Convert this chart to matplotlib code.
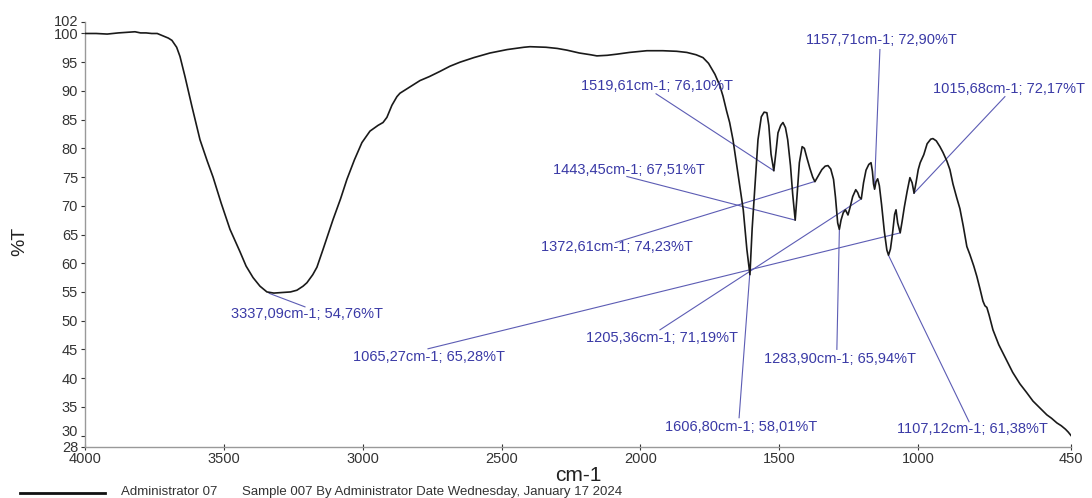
"""FTIR spectrum of Sample 007 with peak annotations."""

import matplotlib
matplotlib.use("Agg")
import matplotlib.pyplot as plt
import matplotlib.transforms as mtransforms
from matplotlib.lines import Line2D

plt.rcParams["font.family"] = ["Liberation Sans", "DejaVu Sans"]

# spectrum, wavenumber (cm-1) -> transmittance (%T)
wavenumber = [
    4000, 3960, 3920, 3880, 3850, 3820, 3800, 3780, 3760, 3740, 3720, 3700,
    3687, 3670, 3658, 3640, 3615, 3586, 3560, 3539, 3510, 3478, 3442, 3420,
    3395, 3370, 3345, 3320, 3287, 3260, 3237, 3215, 3201, 3180, 3165, 3143,
    3107, 3080, 3057, 3030, 3003, 2974, 2945, 2927, 2913, 2895, 2877, 2866,
    2830, 2794, 2760, 2722, 2686, 2650, 2600, 2542, 2480, 2420, 2398, 2340,
    2300, 2265, 2220, 2180, 2157, 2120, 2085, 2040, 1977, 1920, 1870, 1833,
    1800, 1775, 1755, 1732, 1715, 1703, 1690, 1679, 1667, 1653, 1642, 1630,
    1617, 1606, 1598, 1590, 1577, 1565, 1555, 1545, 1538, 1530, 1520, 1512,
    1505, 1495, 1487, 1478, 1470, 1460, 1452, 1443, 1436, 1428, 1418, 1410,
    1400, 1390, 1380, 1372, 1360, 1347, 1335, 1325, 1315, 1305, 1298, 1290,
    1284, 1278, 1270, 1262, 1253, 1245, 1236, 1225, 1218, 1212, 1205, 1197,
    1188, 1178, 1170, 1165, 1161, 1157, 1152, 1146, 1140, 1132, 1122, 1113,
    1107, 1100, 1093, 1085, 1080, 1074, 1065, 1058, 1050, 1040, 1030, 1022,
    1015, 1008, 1000, 993, 980, 968, 955, 947, 935, 922, 911, 897, 886, 875,
    862, 850, 838, 825, 814, 800, 789, 778, 767, 760, 753, 745, 731, 710, 681,
    660, 634, 610, 587, 562, 537, 520, 501, 485, 470, 460, 450,
]
transmittance = [
    100.0, 100.0, 99.9, 100.1, 100.2, 100.3, 100.1, 100.1, 100.0, 100.0, 99.6,
    99.2, 98.8, 97.6, 96.0, 92.5, 87.3, 81.5, 77.8, 75.0, 70.5, 65.9, 62.0,
    59.5, 57.5, 56.0, 55.0, 54.8, 54.9, 55.0, 55.3, 56.0, 56.6, 58.0, 59.3,
    62.4, 67.6, 71.2, 74.6, 78.0, 81.0, 83.0, 84.0, 84.5, 85.4, 87.5, 89.0,
    89.6, 90.7, 91.8, 92.5, 93.4, 94.3, 95.0, 95.8, 96.6, 97.2, 97.6, 97.7,
    97.6, 97.4, 97.1, 96.6, 96.3, 96.1, 96.2, 96.4, 96.7, 97.0, 97.0, 96.9,
    96.7, 96.3, 95.8, 94.8, 92.9, 91.0, 89.1, 86.5, 84.5, 81.5, 76.9, 73.4,
    69.3, 62.4, 58.0, 66.0, 72.0, 81.5, 85.5, 86.3, 86.2, 84.0, 79.0, 76.1,
    79.5, 82.7, 84.0, 84.5, 83.6, 81.5, 77.0, 72.0, 67.5, 72.0, 77.5, 80.3,
    80.0, 78.2, 76.5, 75.0, 74.2, 75.2, 76.3, 76.9, 77.0, 76.4, 74.6, 71.5,
    67.0, 65.9, 67.5, 68.8, 69.3, 68.4, 69.8, 71.6, 72.8, 72.3, 71.5, 71.2,
    74.0, 76.2, 77.2, 77.5, 76.0, 73.8, 72.9, 74.2, 74.7, 73.5, 70.2, 65.5,
    62.3, 61.4, 62.5, 65.0, 68.5, 69.3, 67.0, 65.3, 67.3, 69.8, 72.5, 74.9,
    74.0, 72.2, 74.0, 76.3, 77.5, 78.9, 80.8, 81.6, 81.7, 81.3, 80.3, 79.3,
    77.8, 76.3, 73.8, 71.5, 69.5, 66.5, 62.9, 61.5, 59.5, 57.7, 55.6, 53.4,
    52.6, 52.3, 51.0, 48.4, 45.8, 43.0, 41.0, 39.0, 37.5, 36.0, 34.8, 33.6,
    33.0, 32.2, 31.7, 31.1, 30.6, 30.0,
]

# picked peaks (cm-1, %T) as printed on the chart
peak_wn = [3337.09, 1519.61, 1443.45, 1372.61, 1157.71, 1015.68,
           1065.27, 1205.36, 1283.90, 1606.80, 1107.12]
peak_t = [54.76, 76.10, 67.51, 74.23, 72.90, 72.17,
          65.28, 71.19, 65.94, 58.01, 61.38]

# where each label sits (data coords): text centre and end of leader line
label_xy = [(3201, 51.2), (1939, 90.9), (2041, 76.3), (2085, 62.8),
            (1131, 98.8), (675, 90.4), (2762, 43.7), (1921, 47.0),
            (1282, 43.4), (1638, 31.5), (805, 31.2)]
leader_xy = [(3208, 52.4), (1944, 89.5), (2049, 75.1), (2090, 63.6),
             (1138, 97.2), (688, 89.0), (2765, 45.1), (1930, 48.4),
             (1293, 45.0), (1645, 33.1), (817, 32.4)]

x_ticks = [4000, 3500, 3000, 2500, 2000, 1500, 1000, 450]
y_ticks = [28, 30, 35, 40, 45, 50, 55, 60, 65, 70, 75, 80, 85, 90, 95, 100, 102]

W, H = 1092, 498
fig = plt.figure(figsize=(W / 100, H / 100), dpi=100)
ax = fig.add_axes([85 / W, 1 - 447 / H, (1071 - 85) / W, (447 - 22) / H])

ax.plot(wavenumber, transmittance, color="#1a1a1a", lw=1.2, zorder=3)

label_color = "#3a3aa6"
line_color = "#5c5cb4"
for wn, t, (lx, ly), (sx, sy) in zip(peak_wn, peak_t, label_xy, leader_xy):
    ax.plot([wn, sx], [t, sy], color=line_color, lw=0.8, zorder=2)
    txt = f"{wn:.2f}cm-1; {t:.2f}%T".replace(".", ",")
    ax.text(lx, ly, txt, color=label_color, fontsize=10.5,
            ha="center", va="center", zorder=4)

ax.set_xlim(4000, 450)
ax.set_ylim(28, 102)
ax.set_xticks(x_ticks)
ax.set_yticks(y_ticks)
ax.tick_params(axis="both", labelsize=10.5, colors="#333333", length=3,
               width=0.8, pad=2)
ax.tick_params(axis="x", direction="inout", length=5, pad=1)
for side in ("top", "right"):
    ax.spines[side].set_visible(False)
for side in ("left", "bottom"):
    ax.spines[side].set_color("#999999")
    ax.spines[side].set_linewidth(1.0)

# the crowded ends of the y axis: nudge labels apart like the original
nudge = {28: 1, 30: 5, 102: 2}
for val, lab in zip(y_ticks, ax.get_yticklabels()):
    if val in nudge:
        off = mtransforms.ScaledTranslation(0, nudge[val] / 100, fig.dpi_scale_trans)
        lab.set_transform(lab.get_transform() + off)

fig.text(578 / W, 1 - 475 / H, "cm-1", fontsize=15, color="#222222",
         ha="center", va="center")
fig.text(20 / W, 1 - 241 / H, "%T", fontsize=14, color="#222222",
         rotation=90, ha="center", va="center")

fig.add_artist(Line2D([20 / W, 105 / W], [1 - 493 / H] * 2,
                      color="#111111", lw=2))
fig.text(121 / W, 1 - 492 / H, "Administrator 07", fontsize=9.5,
         color="#333333", va="center")
fig.text(242 / W, 1 - 492 / H,
         "Sample 007 By Administrator Date Wednesday, January 17 2024",
         fontsize=9.5, color="#333333", va="center")

fig.savefig("out.png", dpi=100)
